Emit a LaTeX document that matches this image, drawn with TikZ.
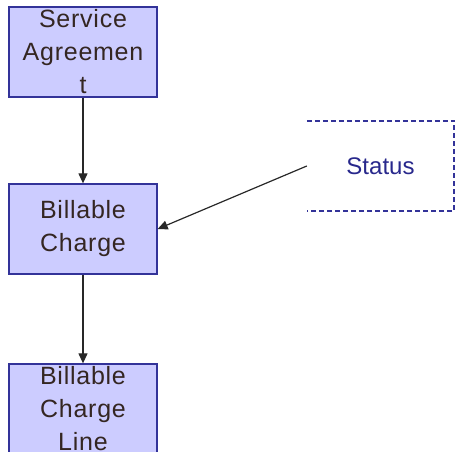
\documentclass[tikz,border=0pt]{standalone}
\usepackage{fontspec}
\setmainfont{Liberation Sans}
\newfontfamily\boxfont[LetterSpace=3]{Liberation Sans}
\usetikzlibrary{arrows.meta}
\definecolor{boxfill}{RGB}{204,204,255}
\definecolor{boxline}{RGB}{51,51,153}
\definecolor{boxtext}{RGB}{52,38,34}
\definecolor{stattext}{RGB}{40,40,140}
\definecolor{conn}{RGB}{40,40,40}
\tikzset{
  entity/.style={draw=boxline, line width=1.3pt, fill=boxfill, minimum width=148pt, minimum height=90pt,
    inner sep=0pt, align=center, text=boxtext, font=\boxfont\fontsize{25}{33}\selectfont},
  statbox/.style={minimum width=147pt, minimum height=90pt, inner sep=0pt, align=center,
    text=stattext, font=\fontsize{24}{33}\selectfont},
  conn/.style={draw=conn, line width=1.2pt, -{Triangle[width=9pt,length=10pt]}},
  dashedge/.style={draw=boxline, line width=1.5pt, dash pattern=on 5pt off 3pt}
}
\begin{document}
\begin{tikzpicture}[x=1pt,y=-1pt]
\useasboundingbox (0,0) rectangle (455,452);
\node[entity] (sa) at (83,52) {Service\\Agreemen\\t};
\node[entity] (bc) at (83,229) {Billable\\Charge};
\node[entity] (bcl) at (83,409) {Billable\\Charge\\Line};
\node[statbox] (st) at (380.5,166) {Status};
\draw[dashedge] (st.north west) -- (st.north east) -- (st.south east) -- (st.south west);
\draw[conn] (sa.south) -- (bc.north);
\draw[conn] (bc.south) -- (bcl.north);
\draw[conn] (st.west) -- (bc.east);
\end{tikzpicture}
\end{document}
